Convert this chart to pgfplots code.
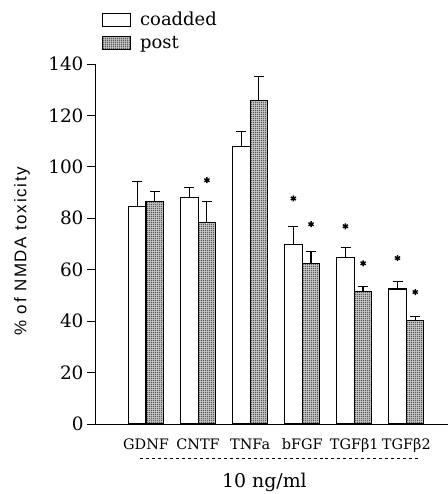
\documentclass[border=0pt]{standalone}
\usepackage{fontspec}
\setmainfont{DejaVu Serif}
\newfontfamily\sansf[LetterSpace=10]{Liberation Sans}
\usepackage{pgfplots}
\pgfplotsset{compat=1.18}
\usetikzlibrary{patterns}
\pgfdeclarepatternformonly{finegrid}{\pgfpointorigin}{\pgfqpoint{1.7pt}{1.7pt}}{\pgfqpoint{1.7pt}{1.7pt}}{%
  \pgfsetlinewidth{0.6pt}%
  \pgfpathmoveto{\pgfqpoint{0pt}{0pt}}\pgfpathlineto{\pgfqpoint{1.7pt}{0pt}}%
  \pgfpathmoveto{\pgfqpoint{0pt}{0pt}}\pgfpathlineto{\pgfqpoint{0pt}{1.7pt}}%
  \pgfusepath{stroke}}
\begin{document}
\begin{tikzpicture}
\path[use as bounding box] (-95bp,-70bp) rectangle (353bp,424bp);
\begin{axis}[
  at={(0,0)}, anchor=south west,
  scale only axis, width=353bp, height=360bp,
  ybar=0pt, bar width=17.5bp,
  xmin=-0.98, xmax=5.8, ymin=0, ymax=140,
  axis lines=left, axis line style={-, line width=1pt},
  xtick={0,1,2,3,4,5},
  xticklabels={GDNF,CNTF,TNFa,bFGF,TGFβ1,TGFβ2},
  xtick style={draw=none},
  xticklabel style={font=\fontsize{14.5}{16}\selectfont, yshift=-3bp},
  ytick={0,20,40,60,80,100,120,140},
  yticklabel style={font=\fontsize{18.5}{20}\selectfont},
  /pgf/number format/assume math mode=true,
  tick align=outside, major tick length=8bp,
  ytick style={line width=0.9pt, black},
  ylabel={\sansf\fontsize{17}{19}\selectfont \% of NMDA toxicity},
  ylabel style={at={(axis description cs:0,0.48)}, yshift=73bp, anchor=center},
  legend style={at={(axis description cs:0,1)}, anchor=south west, xshift=7bp, yshift=12bp,
    draw=none, fill=none, inner sep=0pt, row sep=5bp,
    font=\fontsize{18}{20}\selectfont, nodes={inner xsep=9bp}},
  legend cell align=left,
  legend image code/.code={\draw[#1, line width=1pt] (0bp,-6.5bp) rectangle (28bp,6.5bp);},
  clip=false,
]
\addplot[draw=black, line width=1.1pt, fill=white,
  error bars/.cd, y dir=plus, y explicit, error bar style={line width=1.1pt}, error mark options={rotate=90, mark size=5bp, line width=1.1pt}]
  coordinates {(0,84.7) +- (0,9.7) (1,88.2) +- (0,3.8) (2,108) +- (0,5.8) (3,69.9) +- (0,7.0) (4,64.6) +- (0,3.9) (5,52.5) +- (0,3.0)};
\addplot[draw=black, line width=1.1pt, fill=gray!45, postaction={pattern=finegrid, pattern color=black!85},
  error bars/.cd, y dir=plus, y explicit, error bar style={line width=1.1pt}, error mark options={rotate=90, mark size=5bp, line width=1.1pt}]
  coordinates {(0,86.6) +- (0,3.9) (1,78.5) +- (0,8.1) (2,125.8) +- (0,9.2) (3,62.5) +- (0,4.7) (4,51.4) +- (0,2.2) (5,40.1) +- (0,1.8)};
\legend{coadded, post}
\addplot[only marks, mark=asterisk, mark size=3bp, line width=1.4pt, black, forget plot, bar shift=0pt]
  coordinates {(1.17,94.8) (2.83,87.7) (3.17,77.7) (3.83,76.9) (4.17,62.5) (4.83,64.5) (5.17,51.3)};
\draw[dashed, line width=0.6pt] (axis description cs:0.128,-0.095) -- (axis description cs:0.915,-0.095);
\node[font=\fontsize{19}{21}\selectfont] at (axis description cs:0.48,-0.162) {10 ng/ml};
\end{axis}
\end{tikzpicture}
\end{document}
